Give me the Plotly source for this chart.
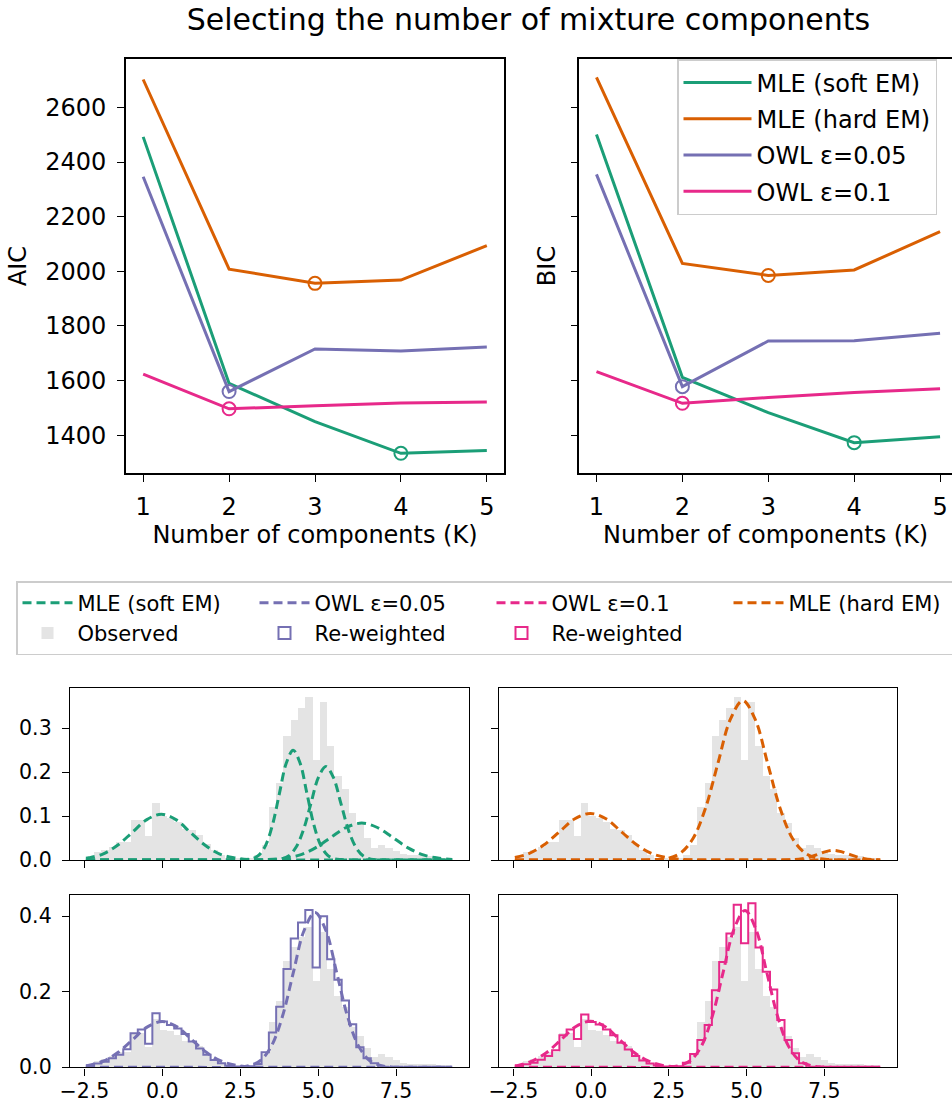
import numpy as np
import plotly.graph_objects as go

# ---------------- data: model selection criteria ----------------
K = [1, 2, 3, 4, 5]
aic_soft = [2492, 1590, 1450, 1334, 1344]
aic_hard = [2702, 2008, 1956, 1968, 2094]
aic_owl05 = [2346, 1560, 1716, 1708, 1723]
aic_owl10 = [1624, 1497, 1508, 1518, 1522]
bic_soft = [2501, 1612, 1483, 1373, 1395]
bic_hard = [2710, 2029, 1985, 2005, 2145]
bic_owl05 = [2355, 1578, 1745, 1746, 1773]
bic_owl10 = [1633, 1517, 1538, 1557, 1570]

# ---------------- data: histograms (density, 50 bins) ----------------
bin_edges = [-2.420, -2.186, -1.953, -1.719, -1.486, -1.252, -1.018, -0.785, -0.551, -0.318,
             -0.084, 0.150, 0.383, 0.617, 0.850, 1.084, 1.318, 1.551, 1.785, 2.018,
             2.252, 2.486, 2.719, 2.953, 3.186, 3.420, 3.654, 3.887, 4.121, 4.354,
             4.588, 4.822, 5.055, 5.289, 5.522, 5.756, 5.990, 6.223, 6.457, 6.690,
             6.924, 7.158, 7.391, 7.625, 7.858, 8.092, 8.326, 8.559, 8.793, 9.026, 9.260]
observed = [0.006, 0.017, 0.021, 0.030, 0.040, 0.040, 0.091, 0.091, 0.055, 0.129,
            0.100, 0.095, 0.085, 0.070, 0.068, 0.057, 0.036, 0.023, 0.011, 0.005,
            0.003, 0.001, 0.002, 0.010, 0.034, 0.121, 0.175, 0.281, 0.319, 0.345,
            0.371, 0.228, 0.358, 0.260, 0.190, 0.160, 0.106, 0.084, 0.050, 0.027,
            0.034, 0.027, 0.020, 0.012, 0.010, 0.010, 0.008, 0.008, 0.005, 0.005]
reweighted_owl05 = [0.005, 0.010, 0.015, 0.024, 0.033, 0.048, 0.090, 0.100, 0.062, 0.143,
                    0.121, 0.112, 0.103, 0.088, 0.068, 0.050, 0.033, 0.019, 0.011, 0.004,
                    0.002, 0.001, 0.003, 0.009, 0.040, 0.092, 0.160, 0.260, 0.341, 0.383,
                    0.416, 0.264, 0.400, 0.286, 0.232, 0.177, 0.114, 0.053, 0.024, 0.011,
                    0, 0, 0, 0, 0, 0, 0, 0, 0, 0]
reweighted_owl10 = [0.004, 0.008, 0.012, 0.020, 0.030, 0.045, 0.085, 0.100, 0.075, 0.140,
                    0.120, 0.113, 0.100, 0.085, 0.065, 0.047, 0.030, 0.018, 0.010, 0.005,
                    0.002, 0.001, 0.003, 0.012, 0.035, 0.072, 0.112, 0.204, 0.279, 0.354,
                    0.430, 0.328, 0.434, 0.317, 0.253, 0.206, 0.125, 0.072, 0.037, 0.011,
                    0, 0, 0, 0, 0, 0, 0, 0, 0, 0]

# ---------------- data: fitted component densities ----------------
soft_c1_x = [-2.45, -2.355, -1.89, -1.425, -0.96, -0.495, -0.03, 0.435, 0.9, 1.365, 1.83, 2.295, 2.76, 3.225, 5.0, 9.3]
soft_c1_y = [0.004, 0.005, 0.014, 0.034, 0.063, 0.092, 0.104, 0.092, 0.063, 0.034, 0.014, 0.005, 0.001, 0.0002, 0, 0]
soft_c2_x = [-2.45, 1.0, 2.66, 2.88, 3.1, 3.32, 3.54, 3.76, 3.98, 4.2, 4.42, 4.64, 4.86, 5.08, 5.3, 5.52, 5.74, 7.5, 9.3]
soft_c2_y = [0, 0, 0.001, 0.003, 0.011, 0.034, 0.081, 0.152, 0.221, 0.250, 0.221, 0.152, 0.081, 0.034, 0.011, 0.003, 0.001, 0, 0]
soft_c3_x = [-2.45, 2.0, 3.57, 3.81, 4.05, 4.29, 4.53, 4.77, 5.01, 5.25, 5.49, 5.73, 5.97, 6.21, 6.45, 6.69, 6.93, 8.0, 9.3]
soft_c3_y = [0, 0, 0.0005, 0.002, 0.009, 0.029, 0.069, 0.129, 0.188, 0.213, 0.188, 0.129, 0.069, 0.029, 0.009, 0.002, 0.0005, 0, 0]
soft_c4_x = [-2.45, 1.0, 2.9, 3.4, 3.9, 4.4, 4.9, 5.4, 5.9, 6.4, 6.9, 7.4, 7.9, 8.4, 8.9, 9.3]
soft_c4_y = [0, 0, 0.0002, 0.001, 0.004, 0.011, 0.027, 0.051, 0.074, 0.084, 0.074, 0.051, 0.027, 0.011, 0.004, 0.001]

hard_c1_x = [-2.45, -2.02, -1.52, -1.02, -0.52, -0.02, 0.48, 0.98, 1.48, 1.98, 2.48, 2.98, 3.48, 5.0, 9.3]
hard_c1_y = [0.0055, 0.014, 0.034, 0.064, 0.094, 0.106, 0.094, 0.064, 0.034, 0.014, 0.005, 0.001, 0.0002, 0, 0]
hard_c2_x = [-2.45, 0.5, 2.08, 2.48, 2.88, 3.28, 3.68, 4.08, 4.48, 4.88, 5.28, 5.68, 6.08, 6.48, 6.88, 7.28, 7.68, 8.5, 9.3]
hard_c2_y = [0, 0, 0.001, 0.004, 0.016, 0.049, 0.118, 0.220, 0.320, 0.363, 0.320, 0.220, 0.118, 0.049, 0.016, 0.004, 0.001, 0, 0]
hard_c3_x = [-2.45, 5.0, 6.55, 6.8, 7.05, 7.3, 7.55, 7.8, 8.05, 8.3, 8.55, 8.8, 9.05, 9.3]
hard_c3_y = [0, 0, 0.001, 0.003, 0.007, 0.013, 0.019, 0.022, 0.019, 0.013, 0.007, 0.003, 0.001, 0.0002]

owl05_c1_x = [-2.45, -2.375, -1.9, -1.425, -0.95, -0.475, 0.0, 0.475, 0.95, 1.425, 1.9, 2.375, 2.85, 3.325, 5.0, 9.3]
owl05_c1_y = [0.0044, 0.005, 0.016, 0.039, 0.073, 0.107, 0.121, 0.107, 0.073, 0.039, 0.016, 0.005, 0.001, 0.0003, 0, 0]
owl05_c2_x = [-2.45, 0.5, 2.45, 2.8, 3.15, 3.5, 3.85, 4.2, 4.55, 4.9, 5.25, 5.6, 5.95, 6.3, 6.65, 7.0, 7.35, 8.5, 9.3]
owl05_c2_y = [0, 0, 0.001, 0.005, 0.018, 0.056, 0.133, 0.249, 0.362, 0.410, 0.362, 0.249, 0.133, 0.056, 0.018, 0.005, 0.001, 0, 0]

owl10_c1_x = [-2.45, -2.345, -1.88, -1.415, -0.95, -0.485, -0.02, 0.445, 0.91, 1.375, 1.84, 2.305, 2.77, 3.235, 5.0, 9.3]
owl10_c1_y = [0.004, 0.005, 0.017, 0.040, 0.074, 0.108, 0.122, 0.108, 0.074, 0.040, 0.017, 0.005, 0.001, 0.0003, 0, 0]
owl10_c2_x = [-2.45, 0.5, 2.5, 2.85, 3.2, 3.55, 3.9, 4.25, 4.6, 4.95, 5.3, 5.65, 6.0, 6.35, 6.7, 7.05, 7.4, 8.5, 9.3]
owl10_c2_y = [0, 0, 0.001, 0.005, 0.018, 0.056, 0.135, 0.252, 0.366, 0.415, 0.366, 0.252, 0.135, 0.056, 0.018, 0.005, 0.001, 0, 0]

# ---------------- styling ----------------
W, H = 952, 1105
FONT = "DejaVu Sans"
C_SOFT, C_HARD, C_OWL05, C_OWL10 = "#1b9e77", "#d95f02", "#7570b3", "#e7298a"
GRAY = "#e4e4e4"


def fx(px):
    return px / W


def fy(py):
    return 1 - py / H


fig = go.Figure()

# ---------------- top: AIC / BIC ----------------
top_series = [
    ("MLE (soft EM)", aic_soft, bic_soft, C_SOFT),
    ("MLE (hard EM)", aic_hard, bic_hard, C_HARD),
    ("OWL ε=0.05", aic_owl05, bic_owl05, C_OWL05),
    ("OWL ε=0.1", aic_owl10, bic_owl10, C_OWL10),
]
for i, (name, aic, bic, col) in enumerate(top_series):
    for (xa, ya, vals, show) in [("x", "y", aic, True), ("x2", "y2", bic, False)]:
        fig.add_trace(go.Scatter(x=K, y=vals, mode="lines", name=name,
                                 line=dict(color=col, width=3),
                                 xaxis=xa, yaxis=ya, showlegend=show,
                                 legend="legend", legendgroup=f"g{i}"))
        j = int(np.argmin(vals))
        fig.add_trace(go.Scatter(x=[K[j]], y=[vals[j]], mode="markers",
                                 marker=dict(symbol="circle-open", size=13, color=col,
                                             line=dict(width=2, color=col)),
                                 xaxis=xa, yaxis=ya, showlegend=False))

# ---------------- bottom: histograms ----------------
centers = [(a + b) / 2 for a, b in zip(bin_edges[:-1], bin_edges[1:])]
widths = [b - a for a, b in zip(bin_edges[:-1], bin_edges[1:])]

panels = [("x3", "y3"), ("x4", "y4"), ("x5", "y5"), ("x6", "y6")]
for k, (xa, ya) in enumerate(panels):
    fig.add_trace(go.Bar(x=centers, y=observed, width=widths, name="Observed",
                         marker=dict(color=GRAY, line=dict(width=0)),
                         xaxis=xa, yaxis=ya, legend="legend2",
                         showlegend=(k == 0), legendrank=5))


def step_xy(vals):
    xs = [bin_edges[0]] + bin_edges[:-1] + [bin_edges[-1]]
    ys = [0] + list(vals) + [0]
    return xs, ys


DASH = "9px,5px"


def comp(x, y, col, xa, ya, name, show, rank):
    fig.add_trace(go.Scatter(x=x, y=y, mode="lines", name=name,
                             line=dict(color=col, width=3, dash=DASH, shape="spline"),
                             xaxis=xa, yaxis=ya, legend="legend2",
                             showlegend=show, legendrank=rank))


# panel 1: soft EM
for n, (cx, cy) in enumerate([(soft_c1_x, soft_c1_y), (soft_c2_x, soft_c2_y),
                              (soft_c3_x, soft_c3_y), (soft_c4_x, soft_c4_y)]):
    comp(cx, cy, C_SOFT, "x3", "y3", "MLE (soft EM)", n == 0, 1)
# panel 2: hard EM
for n, (cx, cy) in enumerate([(hard_c1_x, hard_c1_y), (hard_c2_x, hard_c2_y),
                              (hard_c3_x, hard_c3_y)]):
    comp(cx, cy, C_HARD, "x4", "y4", "MLE (hard EM)", n == 0, 4)
# panel 3: OWL 0.05
sx, sy = step_xy(reweighted_owl05)
fig.add_trace(go.Scatter(x=sx, y=sy, mode="lines", line=dict(color=C_OWL05, width=2, shape="hv"),
                         xaxis="x5", yaxis="y5", showlegend=False))
for n, (cx, cy) in enumerate([(owl05_c1_x, owl05_c1_y), (owl05_c2_x, owl05_c2_y)]):
    comp(cx, cy, C_OWL05, "x5", "y5", "OWL ε=0.05", n == 0, 2)
# panel 4: OWL 0.1
sx, sy = step_xy(reweighted_owl10)
fig.add_trace(go.Scatter(x=sx, y=sy, mode="lines", line=dict(color=C_OWL10, width=2, shape="hv"),
                         xaxis="x6", yaxis="y6", showlegend=False))
for n, (cx, cy) in enumerate([(owl10_c1_x, owl10_c1_y), (owl10_c2_x, owl10_c2_y)]):
    comp(cx, cy, C_OWL10, "x6", "y6", "OWL ε=0.1", n == 0, 3)

# legend handles for the re-weighted (step) histograms
for col, xa, ya, rank in [(C_OWL05, "x5", "y5", 6), (C_OWL10, "x6", "y6", 7)]:
    fig.add_trace(go.Bar(x=[None], y=[None], name="Re-weighted",
                         marker=dict(color="rgba(0,0,0,0)", line=dict(color=col, width=2)),
                         xaxis=xa, yaxis=ya, legend="legend2", showlegend=True, legendrank=rank))

# ---------------- layout ----------------
ax = dict(showline=True, linecolor="black", linewidth=1.6, ticks="outside", ticklen=7,
          tickwidth=1.4, tickcolor="black", showgrid=False, zeroline=False, mirror=True,
          tickfont=dict(family=FONT, size=24, color="black"), ticklabelstandoff=6)
tx = dict(ax, ticklabelstandoff=4)
hx = dict(ax, tickfont=dict(family=FONT, size=20.5, color="black"), linewidth=1.4)
hxb = dict(hx, ticklabelstandoff=-2)

y_top = [fy(473), fy(59)]
aic_ticks = [1400, 1600, 1800, 2000, 2200, 2400, 2600]
hist_xt = [-2.5, 0.0, 2.5, 5.0, 7.5]

fig.update_layout(
    width=W, height=H,
    margin=dict(l=0, r=0, t=0, b=0, autoexpand=False),
    paper_bgcolor="white", plot_bgcolor="white",
    font=dict(family=FONT, color="black"),
    barmode="overlay", bargap=0,
    title=dict(text="Selecting the number of mixture components", x=fx(528.5), y=fy(19),
               xanchor="center", yanchor="middle", font=dict(family=FONT, size=30, color="black")),
    xaxis=dict(tx, domain=[fx(126), fx(504)], range=[0.8, 5.2], tickvals=K, anchor="y",
               title=dict(text="Number of components (K)", font=dict(size=24), standoff=2)),
    yaxis=dict(ax, domain=y_top, range=[1262, 2777], tickvals=aic_ticks, anchor="x",
               title=dict(text="AIC", font=dict(size=24), standoff=12)),
    xaxis2=dict(tx, domain=[fx(579.3), 1.0], range=[0.8, 5.139], tickvals=K, anchor="y2",
                title=dict(text="Number of components (K)", font=dict(size=24), standoff=2)),
    yaxis2=dict(ax, domain=y_top, range=[1262, 2777], tickvals=aic_ticks, anchor="x2",
                showticklabels=False, mirror=False,
                title=dict(text="BIC", font=dict(size=24), standoff=8)),
    xaxis3=dict(hx, domain=[fx(70), fx(469.3)], range=[-2.96, 9.85], tickvals=hist_xt,
                showticklabels=False, anchor="y3"),
    yaxis3=dict(hx, domain=[fy(860), fy(688.3)], range=[0, 0.391], tickvals=[0, 0.1, 0.2, 0.3],
                tickformat=".1f", anchor="x3"),
    xaxis4=dict(hx, domain=[fx(499), fx(897.3)], range=[-2.96, 9.85], tickvals=hist_xt,
                showticklabels=False, anchor="y4"),
    yaxis4=dict(hx, domain=[fy(860), fy(688.3)], range=[0, 0.391], tickvals=[0, 0.1, 0.2, 0.3],
                showticklabels=False, anchor="x4"),
    xaxis5=dict(hxb, domain=[fx(70), fx(469.3)], range=[-2.96, 9.85], tickvals=hist_xt,
                tickformat=".1f", anchor="y5"),
    yaxis5=dict(hx, domain=[fy(1067.3), fy(895)], range=[0, 0.456], tickvals=[0, 0.2, 0.4],
                tickformat=".1f", anchor="x5"),
    xaxis6=dict(hxb, domain=[fx(499), fx(897.3)], range=[-2.96, 9.85], tickvals=hist_xt,
                tickformat=".1f", anchor="y6"),
    yaxis6=dict(hx, domain=[fy(1067.3), fy(895)], range=[0, 0.456], tickvals=[0, 0.2, 0.4],
                showticklabels=False, anchor="x6"),
    legend=dict(x=fx(677), y=fy(59), xanchor="left", yanchor="top",
                bgcolor="rgba(255,255,255,0.8)", bordercolor="#cccccc", borderwidth=1.5,
                font=dict(family=FONT, size=24, color="black"), itemwidth=68,
                tracegroupgap=2, traceorder="grouped"),
    legend2=dict(orientation="h", x=fx(16), y=fy(581), xanchor="left", yanchor="top",
                 bgcolor="white", bordercolor="#cccccc", borderwidth=1.5,
                 font=dict(family=FONT, size=21, color="black"), itemwidth=50,
                 entrywidth=172, entrywidthmode="pixels", traceorder="normal"),
)

fig.write_html("out.html")
